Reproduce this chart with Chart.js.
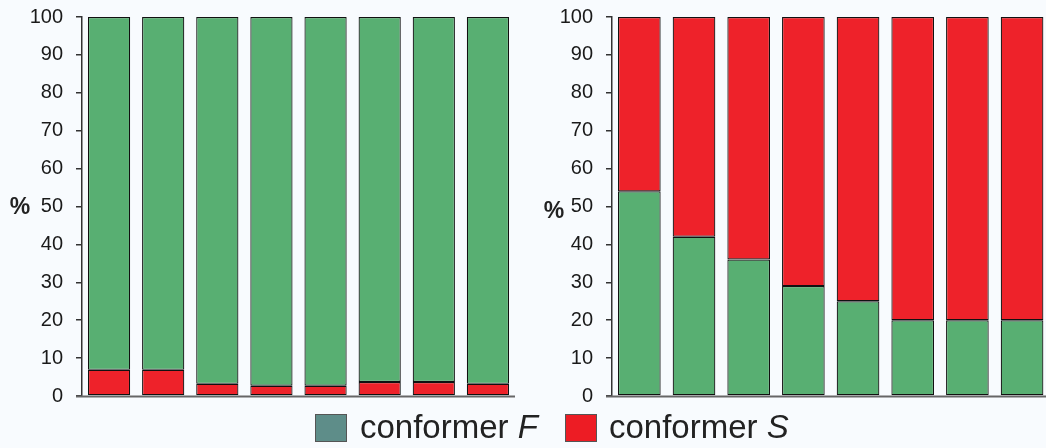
<!DOCTYPE html>
<html>
<head>
<meta charset="utf-8">
<script src="https://cdn.jsdelivr.net/npm/chart.js@4/dist/chart.umd.min.js"></script>
<style>
  html, body { margin: 0; padding: 0; background: #f8fbfe; overflow: hidden; width: 1046px; height: 448px; }
  .panel { position: absolute; top: 0; width: 530px; height: 410px; }
  #leftPanel { left: 0; }
  #rightPanel { left: 530px; }
  .legend { position: absolute; top: 0; left: 0; width: 1046px; height: 448px; pointer-events: none;
            font-family: "Liberation Sans", Arial, sans-serif; font-size: 33px; color: #222; }
  .sw { position: absolute; top: 414px; width: 32px; height: 28px; box-sizing: border-box; border: 1px solid #555; }
  .lt { position: absolute; top: 407px; white-space: nowrap; line-height: 40px; }
</style>
</head>
<body>
<div class="panel" id="leftPanel"><canvas id="leftChart"></canvas></div>
<div class="panel" id="rightPanel"><canvas id="rightChart"></canvas></div>
<div class="legend">
  <div class="sw" style="left:315px; background:#5e8d89;"></div>
  <div class="lt" style="left:360px;">conformer <i>F</i></div>
  <div class="sw" style="left:565px; background:#ed1c24;"></div>
  <div class="lt" style="left:609px;">conformer <i>S</i></div>
</div>
<script>
// Eight samples per panel
const categories = ['1', '2', '3', '4', '5', '6', '7', '8'];

// Left panel: conformer S at the bottom, conformer F on top (percent)
const leftS = [6.9, 6.9, 3.2, 2.7, 2.7, 3.7, 3.7, 3.2];
const leftF = [93.1, 93.1, 96.8, 97.3, 97.3, 96.3, 96.3, 96.8];

// Right panel: conformer F at the bottom, conformer S on top (percent)
const rightF = [54, 42, 36, 29, 25, 20, 20, 20];
const rightS = [46, 58, 64, 71, 75, 80, 80, 80];

// Y axis range and step
const yMin = 0;
const yMax = 100;
const yStep = 10;

const GREEN = '#58af72';
const RED = '#ee222a';
const EDGE = '#111';
const FONT = '"Liberation Sans", Arial, sans-serif';

// Draws the "%" unit label and the base line that runs under the y ticks
const decorPlugin = {
  id: 'decor',
  afterDraw(chart, args, opts) {
    const { ctx, chartArea } = chart;
    ctx.save();
    ctx.strokeStyle = '#666';
    ctx.lineWidth = 2;
    ctx.beginPath();
    ctx.moveTo(chartArea.left - 6, chartArea.bottom + 0.5);
    ctx.lineTo(chartArea.right, chartArea.bottom + 0.5);
    ctx.stroke();
    ctx.fillStyle = '#222';
    ctx.font = 'bold 23px ' + FONT;
    ctx.textAlign = 'center';
    ctx.textBaseline = 'middle';
    ctx.fillText('%', opts.x, opts.y);
    ctx.restore();
  }
};

function makeChart(id, lowData, lowColor, highData, highColor, padRight, unitX, unitY) {
  const ds = (data, color) => ({
    data: data,
    backgroundColor: color,
    borderColor: EDGE,
    borderWidth: 1.2,
    borderSkipped: false,
    barPercentage: 0.78,
    categoryPercentage: 1.0
  });
  return new Chart(document.getElementById(id), {
    type: 'bar',
    data: {
      labels: categories,
      datasets: [ds(lowData, lowColor), ds(highData, highColor)]
    },
    options: {
      responsive: true,
      maintainAspectRatio: false,
      animation: false,
      layout: { padding: { top: 17, bottom: 14, left: 0, right: padRight } },
      plugins: {
        legend: { display: false },
        tooltip: { enabled: false },
        decor: { x: unitX, y: unitY }
      },
      scales: {
        x: {
          stacked: true,
          ticks: { display: false },
          grid: { display: false },
          border: { display: false },
          afterFit: (s) => { s.height = 0; s.paddingLeft = 0; s.paddingRight = 0; }
        },
        y: {
          stacked: true,
          min: yMin,
          max: yMax,
          ticks: {
            stepSize: yStep,
            color: '#1a1a1a',
            padding: 13,
            font: { family: FONT, size: 20 }
          },
          grid: {
            drawOnChartArea: false,
            drawTicks: true,
            tickLength: 6,
            color: '#333',
            lineWidth: 1.5
          },
          border: { display: true, color: '#333', width: 1.5 },
          afterFit: (s) => { s.width = 82; s.paddingTop = 0; s.paddingBottom = 0; }
        }
      }
    },
    plugins: [decorPlugin]
  });
}

makeChart('leftChart', leftS, RED, leftF, GREEN, 15, 20, 208);
makeChart('rightChart', rightF, GREEN, rightS, RED, 10.6, 24, 212);
</script>
</body>
</html>
